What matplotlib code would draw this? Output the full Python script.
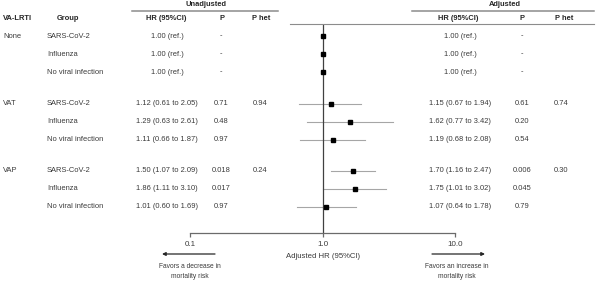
import matplotlib
matplotlib.use("Agg")
import matplotlib.pyplot as plt
from matplotlib.transforms import blended_transform_factory
import numpy as np

plt.rcParams['font.family'] = ['Liberation Sans', 'DejaVu Sans']

# ---------------- data ----------------
va_lrti = ['None', 'VAT', 'VAP']
groups = ['SARS-CoV-2', 'Influenza', 'No viral infection']

unadj_hr = [None, None, None, 1.12, 1.29, 1.11, 1.50, 1.86, 1.01]
unadj_lo = [None, None, None, 0.61, 0.63, 0.66, 1.07, 1.11, 0.60]
unadj_hi = [None, None, None, 2.05, 2.61, 1.87, 2.09, 3.10, 1.69]
unadj_p = ['-', '-', '-', '0.71', '0.48', '0.97', '0.018', '0.017', '0.97']
unadj_phet = ['', '', '', '0.94', '', '', '0.24', '', '']

adj_hr = [1.00, 1.00, 1.00, 1.15, 1.62, 1.19, 1.70, 1.75, 1.07]
adj_lo = [None, None, None, 0.67, 0.77, 0.68, 1.16, 1.01, 0.64]
adj_hi = [None, None, None, 1.94, 3.42, 2.08, 2.47, 3.02, 1.78]
adj_p = ['-', '-', '-', '0.61', '0.20', '0.54', '0.006', '0.045', '0.79']
adj_phet = ['', '', '', '0.74', '', '', '0.30', '', '']

x_ticks = [0.1, 1.0, 10.0]
x_tick_labels = ['0.1', '1.0', '10.0']

# ---------------- layout helpers ----------------
W, H = 596, 288
fig = plt.figure(figsize=(W / 100, H / 100), dpi=100)

def fx(px):
    return px / W

def fy(py):
    return 1 - py / H

ax_top, ax_bot = 24, 233
ax_left, ax_right = 190, 455
ax = fig.add_axes([fx(ax_left), fy(ax_bot), fx(ax_right) - fx(ax_left), (ax_bot - ax_top) / H])
ax.set_xscale('log')
ax.set_xlim(0.1, 10)
ax.set_ylim(ax_bot, ax_top)

# row positions (pixel-like units in the axes)
rows_y = []
for g in range(len(va_lrti)):
    for i in range(len(groups)):
        rows_y.append(36 + 67.5 * g + 18 * i)

TXT = '#3a3a3a'
FS = 5.4
FSB = 5.4

def hr_text(hr, lo, hi):
    if lo is None:
        return '1.00 (ref.)'
    return f'{hr:.2f} ({lo:.2f} to {hi:.2f})'

# forest marks
ax.axvline(1.0, color='#404040', lw=0.9, zorder=2)
for k, y in enumerate(rows_y):
    if adj_lo[k] is not None:
        ax.plot([adj_lo[k], adj_hi[k]], [y, y], color='#a6a6a6', lw=0.8, zorder=1)
    ax.plot([adj_hr[k]], [y], marker='s', color='black', markersize=3.4, zorder=3, linestyle='none')

for s in ['top', 'right', 'left']:
    ax.spines[s].set_visible(False)
ax.spines['bottom'].set_color('#6b6b6b')
ax.spines['bottom'].set_linewidth(0.9)
ax.set_yticks([])
ax.set_xticks(x_ticks)
ax.set_xticklabels(x_tick_labels)
ax.xaxis.set_minor_locator(matplotlib.ticker.NullLocator())
ax.tick_params(axis='x', direction='out', length=3, width=0.9, color='#6b6b6b',
               labelsize=5.8, labelcolor=TXT, pad=3)
ax.patch.set_alpha(0)

trans = blended_transform_factory(fig.transFigure, ax.transData)

# table text
for k, y in enumerate(rows_y):
    g, i = divmod(k, 3)
    if i == 0:
        fig.text(fx(3), y, va_lrti[g], transform=trans, ha='left', va='center', fontsize=FS, color=TXT)
    fig.text(fx(47), y, groups[i], transform=trans, ha='left', va='center', fontsize=FS, color=TXT)
    fig.text(fx(167), y, hr_text(unadj_hr[k], unadj_lo[k], unadj_hi[k]), transform=trans,
             ha='center', va='center', fontsize=FS, color=TXT)
    fig.text(fx(221), y, unadj_p[k], transform=trans, ha='center', va='center', fontsize=FS, color=TXT)
    fig.text(fx(260), y, unadj_phet[k], transform=trans, ha='center', va='center', fontsize=FS, color=TXT)
    fig.text(fx(460), y, hr_text(adj_hr[k], adj_lo[k], adj_hi[k]), transform=trans,
             ha='center', va='center', fontsize=FS, color=TXT)
    fig.text(fx(522), y, adj_p[k], transform=trans, ha='center', va='center', fontsize=FS, color=TXT)
    fig.text(fx(561), y, adj_phet[k], transform=trans, ha='center', va='center', fontsize=FS, color=TXT)

# headers
hy = fy(19)
for x, s, ha in [(3, 'VA-LRTI', 'left'), (68, 'Group', 'center'), (166, 'HR (95%CI)', 'center'),
                 (222, 'P', 'center'), (261, 'P het', 'center'), (458, 'HR (95%CI)', 'center'),
                 (522, 'P', 'center'), (564, 'P het', 'center')]:
    fig.text(fx(x), hy, s, ha=ha, va='center', fontsize=FSB, fontweight='bold', color='#262626')
fig.text(fx(206), fy(5), 'Unadjusted', ha='center', va='center', fontsize=FSB, fontweight='bold', color='#262626')
fig.text(fx(505), fy(5), 'Adjusted', ha='center', va='center', fontsize=FSB, fontweight='bold', color='#262626')

# header rules
for x0, x1, yy in [(132, 278, 11), (412, 594, 11), (290, 594, 24)]:
    fig.add_artist(plt.Line2D([fx(x0), fx(x1)], [fy(yy), fy(yy)], transform=fig.transFigure,
                              color='#8c8c8c', lw=1.1 if yy == 11 else 0.8))

# axis label and direction arrows
fig.text(fx(323), fy(256), 'Adjusted HR (95%CI)', ha='center', va='center', fontsize=5.6, color=TXT)
arrow_kw = dict(arrowstyle='-|>', color='#262626', lw=0.9, mutation_scale=5, shrinkA=0, shrinkB=0)
fig.add_artist(matplotlib.patches.FancyArrowPatch((fx(215), fy(254)), (fx(162), fy(254)),
                                                  transform=fig.transFigure, **arrow_kw))
fig.add_artist(matplotlib.patches.FancyArrowPatch((fx(432), fy(254)), (fx(485), fy(254)),
                                                  transform=fig.transFigure, **arrow_kw))
fig.text(fx(190), fy(266), 'Favors a decrease in', ha='center', va='center', fontsize=4.8, color=TXT)
fig.text(fx(190), fy(277), 'mortality risk', ha='center', va='center', fontsize=4.8, color=TXT)
fig.text(fx(457), fy(266), 'Favors an increase in', ha='center', va='center', fontsize=4.8, color=TXT)
fig.text(fx(457), fy(277), 'mortality risk', ha='center', va='center', fontsize=4.8, color=TXT)

fig.savefig('out.png', dpi=100, facecolor='white')
